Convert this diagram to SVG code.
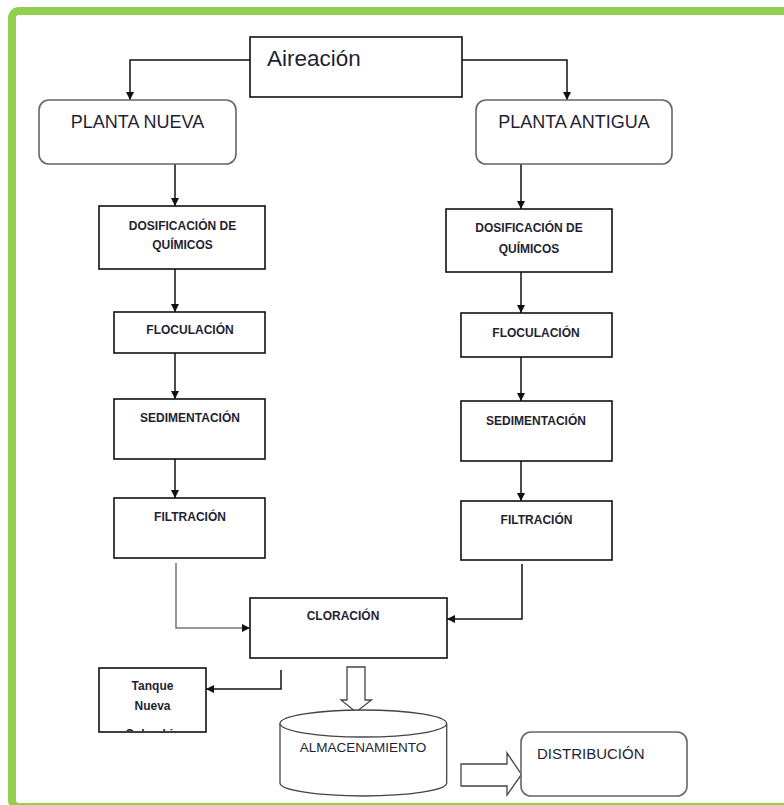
<svg xmlns="http://www.w3.org/2000/svg" width="784" height="805" viewBox="0 0 784 805">
<style>
.box{fill:#fff;stroke:#111;stroke-width:1.6}
.rbox{fill:#fff;stroke:#666;stroke-width:1.6}
.ln{fill:none;stroke:#111;stroke-width:1.5}
.lg{fill:none;stroke:#777;stroke-width:1.5}
.hol{fill:#fff;stroke:#444;stroke-width:1.3}
.b{font-family:"Liberation Sans",Arial,sans-serif;font-weight:bold;font-size:12px;fill:#1f1f33;text-anchor:middle}
.r{font-family:"Liberation Sans",Arial,sans-serif;fill:#1f1f33}
</style>
<defs>
<marker id="ah" viewBox="0 0 10 10" refX="10" refY="5" markerWidth="8" markerHeight="8" markerUnits="userSpaceOnUse" orient="auto">
<path d="M0,0 L10,5 L0,10 z" fill="#111"/>
</marker>
<clipPath id="tclip"><rect x="100" y="669" width="105" height="62"/></clipPath>
</defs>
<rect width="784" height="805" fill="#fff"/>
<rect x="12" y="11" width="790" height="796" rx="7" fill="none" stroke="#92d050" stroke-width="8"/>

<g id="connectors">
<polyline class="ln" points="250,60 130,60 130,100" marker-end="url(#ah)"/>
<polyline class="ln" points="462,60 567,60 567,100" marker-end="url(#ah)"/>
<line class="ln" x1="175" y1="164" x2="175" y2="206" marker-end="url(#ah)"/>
<line class="ln" x1="175" y1="269" x2="175" y2="312" marker-end="url(#ah)"/>
<line class="ln" x1="175" y1="353" x2="175" y2="399" marker-end="url(#ah)"/>
<line class="ln" x1="175" y1="459" x2="175" y2="498" marker-end="url(#ah)"/>
<line class="ln" x1="521" y1="164" x2="521" y2="209" marker-end="url(#ah)"/>
<line class="ln" x1="521" y1="272" x2="521" y2="313" marker-end="url(#ah)"/>
<line class="ln" x1="521" y1="357" x2="521" y2="401" marker-end="url(#ah)"/>
<line class="ln" x1="521" y1="461" x2="521" y2="501" marker-end="url(#ah)"/>
<polyline class="lg" points="176,563 176,628 250,628" marker-end="url(#ah)"/>
<polyline class="ln" points="522,564 522,619 447,619" marker-end="url(#ah)"/>
<polyline class="ln" points="281,670 281,689 206,689" marker-end="url(#ah)"/>
<path class="hol" d="M347,667 L365,667 L365,700 L371.5,700 L356,712 L341,700 L347,700 Z"/>
<path class="hol" d="M461,764 L507,764 L507,753 L521.5,774.5 L507,795 L507,786 L461,786 Z"/>
</g>

<g id="aireacion">
<rect class="box" x="250" y="37" width="212" height="60"/>
<text class="r" x="267" y="66" font-size="22.5">Aireación</text>
</g>
<g id="planta-nueva">
<rect class="rbox" x="39" y="100" width="197" height="64" rx="10"/>
<text class="r" x="137.5" y="128" font-size="18" text-anchor="middle">PLANTA NUEVA</text>
</g>
<g id="planta-antigua">
<rect class="rbox" x="476" y="100" width="196" height="64" rx="10"/>
<text class="r" x="574" y="128" font-size="18" text-anchor="middle">PLANTA ANTIGUA</text>
</g>

<g id="dosif-n">
<rect class="box" x="99" y="206" width="166" height="63"/>
<text class="b" x="182.5" y="230">DOSIFICACIÓN DE</text>
<text class="b" x="182.5" y="249">QUÍMICOS</text>
</g>
<g id="floc-n">
<rect class="box" x="114" y="312" width="151" height="41"/>
<text class="b" x="190" y="334">FLOCULACIÓN</text>
</g>
<g id="sedim-n">
<rect class="box" x="114" y="399" width="151" height="60"/>
<text class="b" x="190" y="422">SEDIMENTACIÓN</text>
</g>
<g id="filtr-n">
<rect class="box" x="114" y="498" width="151" height="60"/>
<text class="b" x="190" y="521">FILTRACIÓN</text>
</g>

<g id="dosif-a">
<rect class="box" x="446" y="209" width="166" height="63"/>
<text class="b" x="529" y="232">DOSIFICACIÓN DE</text>
<text class="b" x="529" y="253">QUÍMICOS</text>
</g>
<g id="floc-a">
<rect class="box" x="461" y="313" width="151" height="44"/>
<text class="b" x="536" y="337">FLOCULACIÓN</text>
</g>
<g id="sedim-a">
<rect class="box" x="461" y="401" width="151" height="60"/>
<text class="b" x="536" y="425">SEDIMENTACIÓN</text>
</g>
<g id="filtr-a">
<rect class="box" x="461" y="501" width="151" height="59"/>
<text class="b" x="536.5" y="524">FILTRACIÓN</text>
</g>

<g id="cloracion">
<rect class="box" x="250" y="598" width="197" height="60"/>
<text class="b" x="343" y="620" font-size="12.8">CLORACIÓN</text>
</g>

<g id="tanque">
<rect class="box" x="99" y="668" width="107" height="64"/>
<text class="b" x="152.5" y="690" font-size="12.5">Tanque</text>
<text class="b" x="152.5" y="710" font-size="12.5">Nueva</text>
<text class="b" x="152.5" y="738" font-size="12.5" clip-path="url(#tclip)">Colombia</text>
</g>

<g id="almacenamiento">
<path class="hol" d="M280,723.5 L280,783 A83.3,13 0 0 0 446.7,783 L446.7,723.5"/>
<ellipse class="hol" cx="363.3" cy="723.5" rx="83.3" ry="13.5"/>
<text class="r" x="363" y="752" font-size="13.5" text-anchor="middle">ALMACENAMIENTO</text>
</g>

<g id="distribucion">
<rect class="rbox" x="521" y="732" width="166" height="64" rx="10"/>
<text class="r" x="537" y="759" font-size="15">DISTRIBUCIÓN</text>
</g>
</svg>
